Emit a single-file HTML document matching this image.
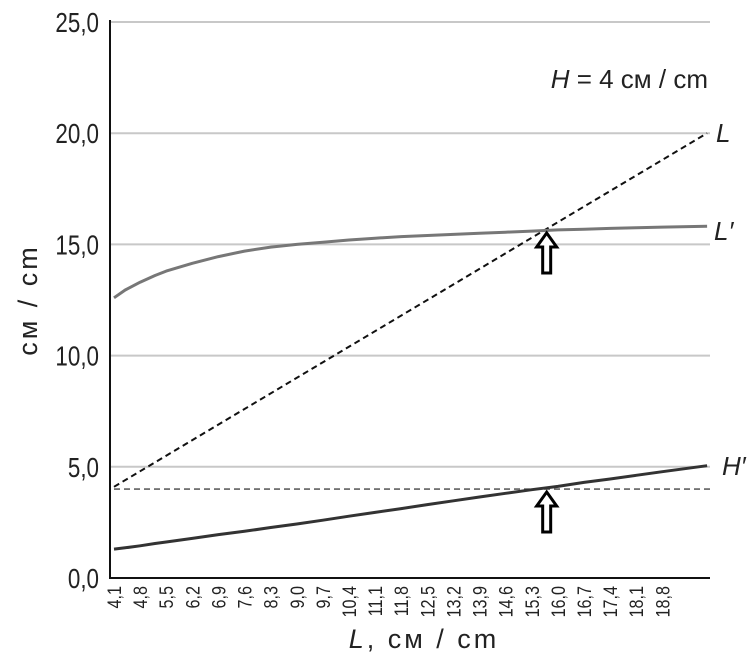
<!DOCTYPE html>
<html><head><meta charset="utf-8"><style>
body{margin:0;background:#fff;}
svg{display:block;font-family:"Liberation Sans Narrow","Liberation Sans",sans-serif;}
</style></head><body>
<svg id="c" width="748" height="657" viewBox="0 0 748 657"></svg>
<script>
const yTicks=[0,5,10,15,20,25];
const yTickLabels=["0,0","5,0","10,0","15,0","20,0","25,0"];
const xTicks=[4.1,4.8,5.5,6.2,6.9,7.6,8.3,9.0,9.7,10.4,11.1,11.8,12.5,13.2,13.9,14.6,15.3,16.0,16.7,17.4,18.1,18.8];
const xTickLabels=["4,1","4,8","5,5","6,2","6,9","7,6","8,3","9,0","9,7","10,4","11,1","11,8","12,5","13,2","13,9","14,6","15,3","16,0","16,7","17,4","18,1","18,8"];
const xs=[4.1,4.4,4.8,5.2,5.5,6.2,6.9,7.6,8.3,9.0,9.7,10.4,11.1,11.8,12.5,13.2,13.9,14.6,15.3,16.0,16.7,17.4,18.1,18.8,20.0];
const lPrime=[12.6,12.95,13.3,13.6,13.8,14.15,14.45,14.7,14.88,15.0,15.1,15.2,15.28,15.35,15.4,15.45,15.5,15.55,15.6,15.65,15.68,15.72,15.75,15.78,15.82];
const hPrime=[1.3,1.36,1.45,1.55,1.62,1.78,1.95,2.1,2.27,2.43,2.6,2.78,2.95,3.12,3.3,3.47,3.64,3.81,3.97,4.12,4.3,4.45,4.62,4.78,5.05];
const lLine=[4.1,20.0];
const hConst=4;
const arrowsAt=[[15.7,15.65],[15.7,4.0]];
const X=v=>114+(v-4.1)*37.3;
const Y=v=>578-v*22.24;
const svg=document.getElementById('c');
const NS='http://www.w3.org/2000/svg';
function mk(t,a,txt){const e=document.createElementNS(NS,t);for(const k in a)e.setAttribute(k,a[k]);if(txt!=null)e.textContent=txt;svg.appendChild(e);return e;}
yTicks.forEach((t,i)=>{
 if(t>0){const g=mk('line',{x1:110,x2:710,y1:Y(t),y2:Y(t),stroke:'#c8c8c8','stroke-width':2});
 
 }
 const l=mk('text',{transform:`translate(99,${Y(t)+10}) scale(0.8,1)`,'text-anchor':'end','font-size':28,fill:'#222'},yTickLabels[i]);
 
 
});
xTicks.forEach((t,i)=>{
 const l=mk('text',{transform:`translate(${X(t)+7},${586}) rotate(-90) scale(0.85,1)`,'text-anchor':'end','font-size':19,fill:'#222'},xTickLabels[i]);
 
 
});
const ax=mk('path',{d:'M110 20 V578 H710',fill:'none',stroke:'#111','stroke-width':2});


const hd=mk('line',{x1:X(4.1),x2:710,y1:Y(hConst),y2:Y(hConst),stroke:'#444','stroke-width':1.3,'stroke-dasharray':'6,4'});


const ll=mk('line',{x1:X(lLine[0]),y1:Y(lLine[0]),x2:X(lLine[1]),y2:Y(lLine[1]),stroke:'#111','stroke-width':2,'stroke-dasharray':'6,4'});


function curve(vals,col,name){
 let d='';xs.forEach((x,i)=>{d+=(i?'L':'M')+X(x).toFixed(1)+' '+Y(vals[i]).toFixed(1)});
 const p=mk('path',{d:d,fill:'none',stroke:col,'stroke-width':3,'stroke-linejoin':'round'});
 
 
}
curve(lPrime,'#777','l-prime-curve');
curve(hPrime,'#333','h-prime-curve');
arrowsAt.forEach(a=>{
 const cx=X(a[0]),ty=Y(a[1])+3;
 const d=`M${cx} ${ty} L${cx+10} ${ty+14} L${cx+4} ${ty+14} L${cx+4} ${ty+40} L${cx-4} ${ty+40} L${cx-4} ${ty+14} L${cx-10} ${ty+14} Z`;
 const p=mk('path',{d:d,fill:'#fff',stroke:'#000','stroke-width':3,'stroke-linejoin':'miter'});
 
 
});
const labs=[[716,142,'L','label-l'],[714,240,"L\u2032",'label-l-prime'],[722,475,"H\u2032",'label-h-prime']];
labs.forEach(l=>{const t=mk('text',{x:l[0],y:l[1],'font-size':26,'font-style':'italic',fill:'#222'},l[2]);
 
 });
const ann=mk('text',{x:708,y:88,'text-anchor':'end','font-size':26,fill:'#222'});
ann.innerHTML='<tspan font-style="italic">H</tspan> = 4 см / cm';


const xt=mk('text',{x:424,y:648,'text-anchor':'middle','font-size':27,fill:'#222','letter-spacing':'3'});
xt.innerHTML='<tspan font-style="italic">L</tspan>, см / cm';


const yt=mk('text',{transform:'translate(37,300) rotate(-90)','text-anchor':'middle','font-size':27,fill:'#222','letter-spacing':'3'},'см / cm');


</script>
</body></html>
